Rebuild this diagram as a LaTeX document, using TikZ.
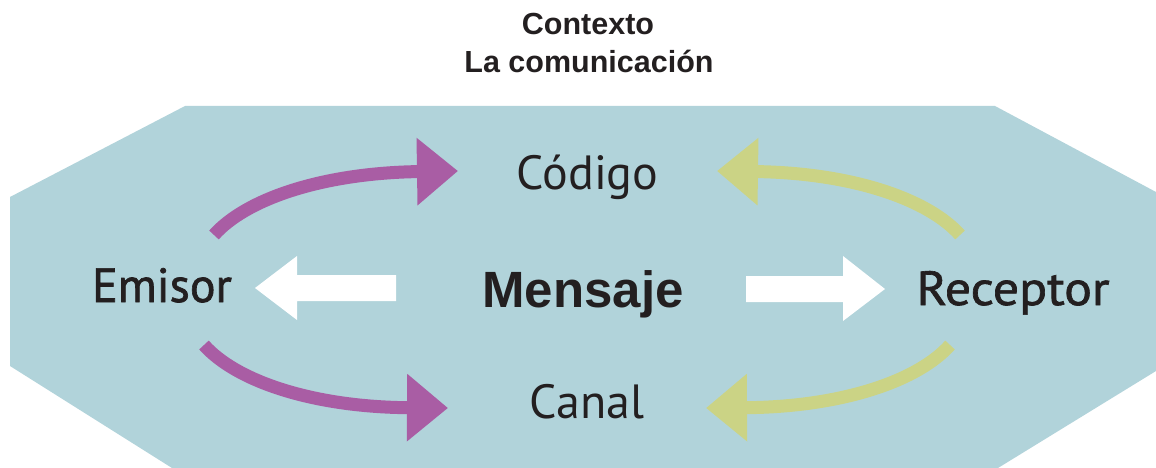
\documentclass[tikz,border=0pt]{standalone}
\usepackage{fontspec}
\setmainfont{Liberation Sans}
\newfontfamily\headfont{Liberation Sans}
\newfontfamily\labelfont{PT Sans}
\newfontfamily\semifont[FakeBold=1.3]{PT Sans}
\usetikzlibrary{arrows.meta}
\definecolor{octblue}{HTML}{B1D3DA}
\definecolor{arrpurple}{HTML}{A95DA4}
\definecolor{arryellow}{HTML}{CBD385}
\definecolor{inkc}{HTML}{231F20}
\tikzset{
  lbl/.style={anchor=base, inner sep=0pt, text=inkc, font=\labelfont\fontsize{48}{52}\selectfont},
  sidelbl/.style={anchor=base, inner sep=0pt, text=inkc, font=\semifont\fontsize{48}{52}\selectfont},
  ttl/.style={anchor=base, inner sep=0pt, text=inkc, font=\headfont\bfseries\fontsize{30.5}{34}\selectfont},
  msg/.style={anchor=base, inner sep=0pt, text=inkc, font=\headfont\bfseries\fontsize{51}{56}\selectfont},
  curvearrow/.style={line width=13pt, -{Triangle[length=41pt,width=65pt]}},
  purplearrow/.style={curvearrow, draw=arrpurple},
  yellowarrow/.style={curvearrow, draw=arryellow},
  whitearrow/.style={fill=white, draw=none}
}
\begin{document}
\begin{tikzpicture}[x=1pt,y=-1pt]
\useasboundingbox (0,0) rectangle (1156,468);
% octagon background
\fill[octblue] (185,106) -- (995,106) -- (1156,192) -- (1156,371) -- (998,468)
  -- (172,468) -- (10,366) -- (10,197) -- cycle;
% titles
\node[ttl] (ctx) at (588,35) {Contexto};
\node[ttl] (com) at (589,73) {La comunicación};
% labels
\node[lbl] (codigo) at (587.5,189) {Código};
\node[lbl] (canal) at (587,418) {Canal};
\node[sidelbl] (emisor) at (162,302) {Emisor};
\node[sidelbl, xscale=1.08] (receptor) at (1013,305) {Receptor};
\node[msg] (mensaje) at (583,307) {Mensaje};
% endpoints
\coordinate (eTop) at (214,235);
\coordinate (cTopP) at (458,171);
\coordinate (eBot) at (204,345);
\coordinate (cBotP) at (448,408);
\coordinate (rTop) at (960,235);
\coordinate (cTopY) at (717,171);
\coordinate (rBot) at (950,345);
\coordinate (cBotY) at (706,408);
% curved arrows
\draw[purplearrow] (eTop) .. controls (245,200) and (320,173) .. (cTopP);
\draw[purplearrow] (eBot) .. controls (235,380) and (310,407) .. (cBotP);
\draw[yellowarrow] (rTop) .. controls (929,200) and (854,173) .. (cTopY);
\draw[yellowarrow] (rBot) .. controls (919,380) and (844,407) .. (cBotY);
% white arrows
\fill[whitearrow] (396,275) -- (297,275) -- (297,256) -- (255,288) -- (297,320) -- (297,301) -- (396,301) -- cycle;
\fill[whitearrow] (746,276) -- (843,276) -- (843,256) -- (885,289) -- (843,321) -- (843,302) -- (746,302) -- cycle;
\end{tikzpicture}
\end{document}
